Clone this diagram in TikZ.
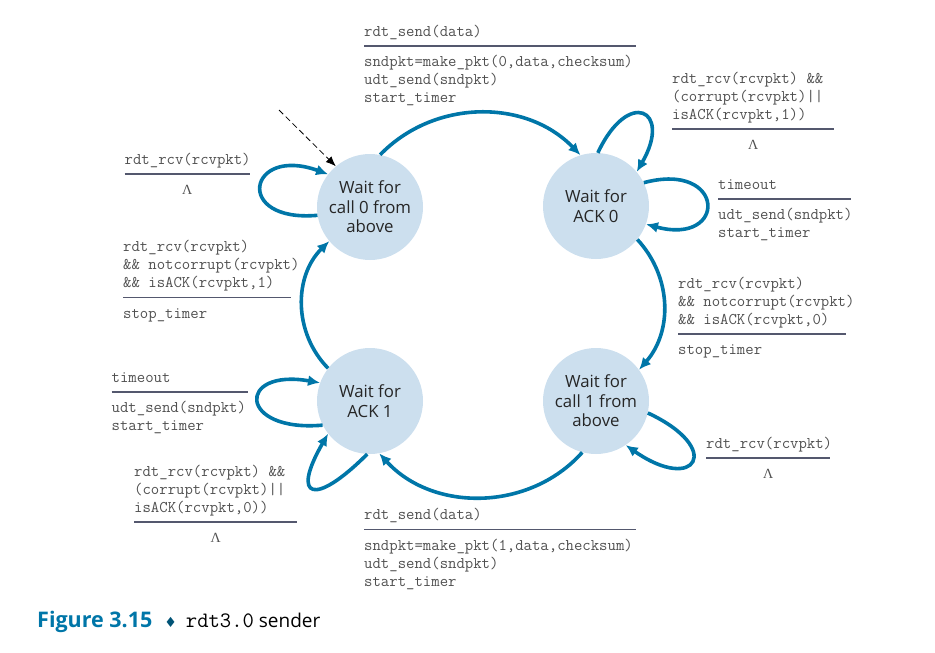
\documentclass[tikz,border=0pt]{standalone}
\usepackage{fontspec}
\setmainfont{Open Sans}
\newfontfamily\symfont{DejaVu Sans}
\newfontfamily\lamfont{Liberation Serif}
\usepackage{xcolor}
\usepackage{colortbl}
\usepackage{tikz}
\usetikzlibrary{arrows.meta,positioning,calc}

\definecolor{fsmblue}{RGB}{0,118,168}
\definecolor{statefill}{RGB}{204,223,238}
\definecolor{codegray}{RGB}{80,80,80}
\definecolor{rulegray}{RGB}{84,88,110}
\setlength{\arrayrulewidth}{1.3pt}
\arrayrulecolor{rulegray}

% event on top, action below the bar
\newcommand{\evact}[3]{\begin{tabular}[t]{@{}p{#1pt}@{}}#2\\[4pt]\hline\noalign{\vskip7.4pt}#3\end{tabular}}
\newcommand{\lamcell}{\multicolumn{1}{c}{\lamfont\fontsize{14}{18}\selectfont Λ}}

\begin{document}
\begin{tikzpicture}[x=1pt, y=1pt,
  state/.style={circle, fill=statefill, minimum size=106pt, inner sep=0pt, align=center,
    text=black!85, font=\fontsize{16.8}{19.5}\selectfont},
  trans/.style={anchor=base west, inner sep=0pt, text=codegray,
    font=\fontsize{16.3}{18}\selectfont\ttfamily},
  move/.style={draw=fsmblue, line width=3.6pt, -{Latex[length=12pt,width=11pt]}},
  loopmove/.style={move, looseness=1}]
\useasboundingbox (0,0) rectangle (935,-653);

% the four states
\foreach \name/\x/\y/\txt in {call0/370/-207/{Wait for\\call 0 from\\above},
    ack0/596/-206/{Wait for\\ACK 0}, ack1/370/-401/{Wait for\\ACK 1},
    call1/596/-401/{Wait for\\call 1 from\\above}} {
  \node[state] (\name) at (\x,\y) {\txt};
}

% initial state
\coordinate (init) at (279,-110);
\draw[dash pattern=on 6pt off 3.5pt, line width=0.8pt, -{Latex[length=10pt,width=8pt]}] (init) -- (call0.130);

% transitions
\draw[move] (call0.79) to[bend left=46] (ack0.107);
\draw[loopmove] (ack0.88) to[out=65, in=60, distance=72pt] (ack0.40);
\draw[loopmove] (ack0.26) to[out=15, in=-15, distance=85pt] (ack0.-20);
\draw[move] (ack0.-39) to[bend left=42] (call1.36);
\draw[loopmove] (call1.-13) to[out=-25, in=-35, distance=85pt] (call1.-56);
\draw[move] (call1.-105) to[bend left=48] (ack1.-80);
\draw[loopmove] (ack1.-93) to[out=-135, in=-120, distance=75pt] (ack1.218);
\draw[loopmove] (ack1.207) to[out=185, in=170, distance=85pt] (ack1.160);
\draw[move] (ack1.142) to[bend left=45] (call0.-140);
\draw[loopmove] (call0.189) to[out=185, in=160, distance=85pt] (call0.142);

% event / action labels
\node[trans] (lsend0) at (364,-36) {\evact{272}{rdt\_send(data)}{sndpkt=make\_pkt(0,data,checksum)\\udt\_send(sndpkt)\\start\_timer}};
\node[trans] (lbad0) at (672,-83) {\evact{162}{rdt\_rcv(rcvpkt)~\&\&\\(corrupt(rcvpkt)||\\isACK(rcvpkt,1))}{\lamcell}};
\node[trans] (ltime0) at (718,-189) {\evact{133}{timeout}{udt\_send(sndpkt)\\start\_timer}};
\node[trans] (lgood0) at (678,-288) {\evact{168}{rdt\_rcv(rcvpkt)\\\&\&~notcorrupt(rcvpkt)\\\&\&~isACK(rcvpkt,0)}{stop\_timer}};
\node[trans] (lidle1) at (706,-448) {\evact{124}{rdt\_rcv(rcvpkt)}{\lamcell}};
\node[trans] (lsend1) at (364,-519.5) {\evact{272}{rdt\_send(data)}{sndpkt=make\_pkt(1,data,checksum)\\udt\_send(sndpkt)\\start\_timer}};
\node[trans] (lidle0) at (124.5,-164) {\evact{125}{rdt\_rcv(rcvpkt)}{\lamcell}};
\node[trans] (lgood1) at (123,-251.5) {\evact{168}{rdt\_rcv(rcvpkt)\\\&\&~notcorrupt(rcvpkt)\\\&\&~isACK(rcvpkt,1)}{stop\_timer}};
\node[trans] (ltime1) at (111.5,-382) {\evact{136}{timeout}{udt\_send(sndpkt)\\start\_timer}};
\node[trans] (lbad1) at (134,-476) {\evact{163}{rdt\_rcv(rcvpkt)~\&\&\\(corrupt(rcvpkt)||\\isACK(rcvpkt,0))}{\lamcell}};

% caption
\node[anchor=base west, inner sep=0pt, font=\fontsize{19}{22}\selectfont] (caption) at (37,-627)
  {{\fontsize{21.5}{22}\selectfont\bfseries\color{fsmblue}Figure 3.15}\hspace{12pt}{\symfont\fontsize{14}{22}\selectfont\color{fsmblue!70!black}♦}\hspace{9pt}{\ttfamily\fontsize{22}{22}\selectfont rdt3.0} sender};
\end{tikzpicture}
\end{document}
